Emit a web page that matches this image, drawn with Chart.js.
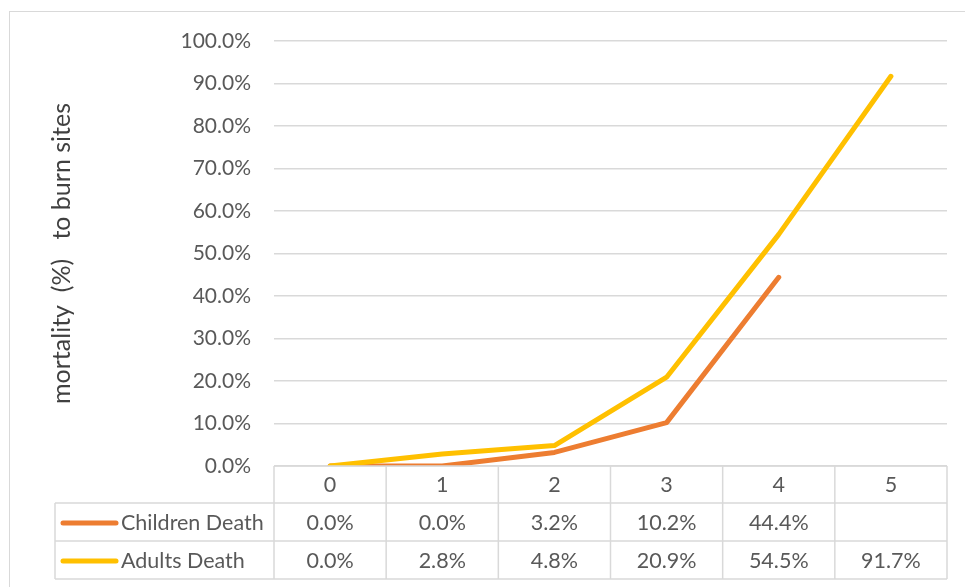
<!DOCTYPE html>
<html>
<head>
<meta charset="utf-8">
<script src="https://cdn.jsdelivr.net/npm/chart.js@4.4.1/dist/chart.umd.min.js"></script>
<style>
  html, body { margin: 0; padding: 0; background: #fff; }
  #wrap { width: 965px; height: 587px; position: relative; }
</style>
</head>
<body>
<div id="wrap"><canvas id="chart"></canvas></div>
<script>
// values (percent)
const categories = ['0', '1', '2', '3', '4', '5'];
const childrenDeath = [0.0, 0.0, 3.2, 10.2, 44.4, null];
const adultsDeath = [0.0, 2.8, 4.8, 20.9, 54.5, 91.7];
const seriesNames = ['Children Death', 'Adults Death'];
const seriesColors = ['#ED7D31', '#FFC000'];
const yTitle = 'mortality  (%)   to burn sites';

const FONT = 'Lato';
const TEXT = '#595959';
const GRID = '#d9d9d9';

const pct = v => v.toFixed(1) + '%';

// draws the Excel-like data table under the plot, using the x scale for columns
const dataTable = {
  id: 'dataTable',
  beforeDraw(chart) {
    const c = chart.ctx;
    c.save();
    c.strokeStyle = GRID;
    c.lineWidth = 1;
    c.strokeRect(9.5, 11.5, 2000, 2000);
    c.restore();
  },
  afterDraw(chart) {
    const c = chart.ctx;
    const x = chart.scales.x;
    const area = chart.chartArea;
    const half = (x.getPixelForValue(1) - x.getPixelForValue(0)) / 2;
    const left = x.getPixelForValue(0) - half;
    const right = x.getPixelForValue(categories.length - 1) + half;
    const legLeft = 55;
    const rows = [area.bottom, 503, 541, 579];

    c.save();
    c.strokeStyle = GRID;
    c.lineWidth = 1.5;
    c.beginPath();
    // horizontal lines
    c.moveTo(left, rows[0]); c.lineTo(right, rows[0]);
    for (let r = 1; r < rows.length; r++) {
      c.moveTo(legLeft, rows[r]); c.lineTo(right, rows[r]);
    }
    // vertical lines
    c.moveTo(legLeft, rows[1]); c.lineTo(legLeft, rows[3]);
    for (let i = 0; i <= categories.length; i++) {
      const px = left + i * half * 2;
      c.moveTo(px, rows[0]); c.lineTo(px, rows[3]);
    }
    c.stroke();

    c.fillStyle = TEXT;
    c.font = '21.5px ' + FONT;
    c.textAlign = 'center';
    c.textBaseline = 'middle';
    categories.forEach((cat, i) => {
      c.fillText(cat, x.getPixelForValue(i), (rows[0] + rows[1]) / 2 + 1);
    });
    const series = [childrenDeath, adultsDeath];
    series.forEach((vals, s) => {
      const cy = (rows[s + 1] + rows[s + 2]) / 2 + 1;
      vals.forEach((v, i) => {
        if (v !== null) c.fillText(pct(v), x.getPixelForValue(i), cy);
      });
      // legend key
      c.strokeStyle = seriesColors[s];
      c.lineWidth = 5;
      c.lineCap = 'round';
      c.beginPath();
      c.moveTo(63, cy); c.lineTo(116, cy);
      c.stroke();
      c.textAlign = 'left';
      c.fillText(seriesNames[s], 121, cy);
      c.textAlign = 'center';
    });
    c.restore();
  }
};

new Chart(document.getElementById('chart'), {
  type: 'line',
  data: {
    labels: categories,
    datasets: [{
      label: seriesNames[0],
      data: childrenDeath,
      borderColor: seriesColors[0],
      backgroundColor: seriesColors[0],
      borderWidth: 5,
      pointRadius: 0,
      borderCapStyle: 'round',
      borderJoinStyle: 'round',
      tension: 0,
      order: 1
    }, {
      label: seriesNames[1],
      data: adultsDeath,
      borderColor: seriesColors[1],
      backgroundColor: seriesColors[1],
      borderWidth: 5,
      pointRadius: 0,
      borderCapStyle: 'round',
      borderJoinStyle: 'round',
      tension: 0,
      order: 0
    }]
  },
  options: {
    responsive: true,
    maintainAspectRatio: false,
    animation: false,
    layout: { padding: { left: 43, top: 41, right: 18, bottom: 121 } },
    plugins: {
      legend: { display: false },
      tooltip: { enabled: false }
    },
    scales: {
      x: {
        offset: true,
        grid: { display: false },
        border: { display: false },
        ticks: { display: false },
        afterFit(scale) { scale.height = 0; }
      },
      y: {
        min: 0,
        max: 100,
        ticks: {
          stepSize: 10,
          color: TEXT,
          font: { family: FONT, size: 21 },
          padding: 23,
          callback: v => pct(v)
        },
        grid: { color: GRID, lineWidth: 1.5, drawTicks: false },
        border: { display: false },
        title: {
          display: true,
          text: yTitle,
          color: '#404040',
          font: { family: FONT, size: 25 }
        },
        afterFit(scale) { scale.width = 274 - 43; }
      }
    }
  },
  plugins: [dataTable]
});
</script>
</body>
</html>
